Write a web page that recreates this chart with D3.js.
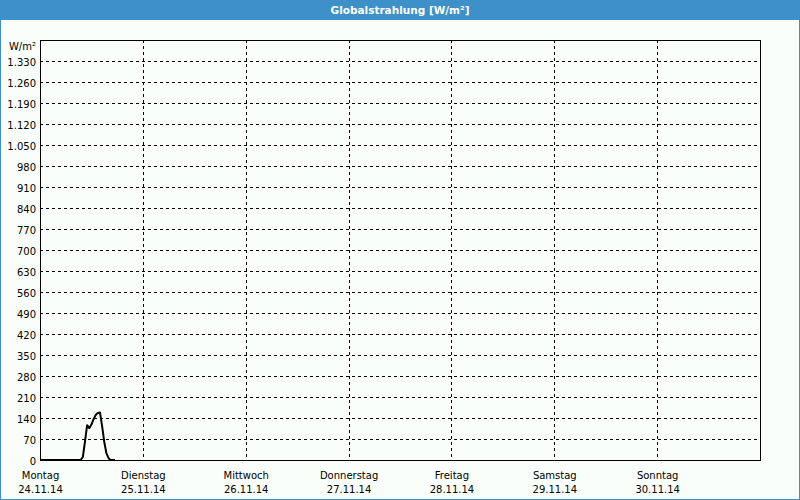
<!DOCTYPE html>
<html>
<head>
<meta charset="utf-8">
<script src="https://cdn.jsdelivr.net/npm/d3@7/dist/d3.min.js"></script>
<style>
  html, body { margin: 0; padding: 0; background: #fff; }
  svg { display: block; }
</style>
</head>
<body>
<svg id="chart" width="800" height="500"></svg>
<script>
// ---- data ----
const title = "Globalstrahlung [W/m²]";
const unitLabel = "W/m²";
const dayNames = ["Montag", "Dienstag", "Mittwoch", "Donnerstag", "Freitag", "Samstag", "Sonntag"];
const dayDates = ["24.11.14", "25.11.14", "26.11.14", "27.11.14", "28.11.14", "29.11.14", "30.11.14"];
const yTicks = [0, 70, 140, 210, 280, 350, 420, 490, 560, 630, 700, 770, 840, 910, 980, 1050, 1120, 1190, 1260, 1330];
// hours since Monday 24.11.14 00:00
const hours = [0, 9.5, 10.0, 10.5, 11.0, 11.5, 12.0, 12.5, 13.0, 13.5, 14.0, 14.5, 15.0, 15.5, 16.0, 16.5, 17.5];
const values = [0, 0, 10, 62, 116, 106, 118, 136, 150, 157, 158, 112, 60, 22, 6, 0, 0];

// ---- layout ----
const W = 800, H = 500;
const m = { left: 40, right: 760, top: 40, bottom: 460 };
const svg = d3.select("#chart");
const font = "Tahoma, 'DejaVu Sans', sans-serif";
const fs = "10px";

svg.append("rect").attr("x", 0).attr("y", 0).attr("width", W).attr("height", H).attr("fill", "#fafefa");
svg.append("rect").attr("x", 0).attr("y", 0).attr("width", W).attr("height", 20).attr("fill", "#3d91c8");
svg.append("rect").attr("x", 0.5).attr("y", 0.5).attr("width", W - 1).attr("height", H - 1)
  .attr("fill", "none").attr("stroke", "#3d91c8").attr("stroke-width", 1);
svg.append("text").attr("x", W / 2).attr("y", 14).attr("text-anchor", "middle")
  .attr("fill", "#fff").attr("font-family", font).attr("font-weight", "bold").attr("font-size", "10.5px")
  .text(title);

const start = new Date(2014, 10, 24);
const end = new Date(2014, 11, 1);
const x = d3.scaleTime().domain([start, end]).range([m.left, m.right]);
const y = d3.scaleLinear().domain([0, 1400]).range([m.bottom, m.top]);
const locale = d3.formatLocale({ decimal: ",", thousands: ".", grouping: [3], currency: ["", "€"] });
const fmt = locale.format(",d");

const days = dayNames.map((n, i) => new Date(2014, 10, 24 + i));

// grid
const grid = svg.append("g").attr("stroke", "#000").attr("stroke-width", 1).attr("stroke-dasharray", "3,3").attr("shape-rendering", "crispEdges");
yTicks.filter(v => v > 0).forEach(v => {
  grid.append("line").attr("x1", m.left).attr("x2", m.right).attr("y1", Math.round(y(v)) + 0.5).attr("y2", Math.round(y(v)) + 0.5);
});
days.slice(1).forEach(d => {
  grid.append("line").attr("y1", m.top).attr("y2", m.bottom).attr("x1", Math.round(x(d)) + 0.5).attr("x2", Math.round(x(d)) + 0.5);
});

// y axis
const yAxis = d3.axisLeft(y).tickValues(yTicks).tickSize(0).tickPadding(4).tickFormat(fmt);
const gy = svg.append("g").attr("transform", `translate(${m.left},0)`).call(yAxis);
gy.select(".domain").remove();
gy.selectAll("text").attr("font-family", font).attr("font-size", fs).attr("fill", "#000").attr("dy", "0.45em");

svg.append("text").attr("x", 36).attr("y", 50).attr("text-anchor", "end")
  .attr("font-family", font).attr("font-size", fs).attr("fill", "#000").text(unitLabel);

// x axis labels
const xAxis = d3.axisBottom(x).tickValues(days).tickSize(0).tickPadding(0).tickFormat("");
const gx = svg.append("g").attr("transform", `translate(0,${m.bottom})`).call(xAxis);
gx.select(".domain").remove();
gx.selectAll(".tick").each(function (d, i) {
  const t = d3.select(this);
  t.append("text").attr("y", 19).attr("text-anchor", "middle").attr("font-family", font).attr("font-size", fs).attr("fill", "#000").text(dayNames[i]);
  t.append("text").attr("y", 33).attr("text-anchor", "middle").attr("font-family", font).attr("font-size", fs).attr("fill", "#000").text(dayDates[i]);
});

// frame
svg.append("rect").attr("x", m.left + 0.5).attr("y", m.top + 0.5).attr("width", m.right - m.left).attr("height", m.bottom - m.top)
  .attr("fill", "none").attr("stroke", "#000").attr("stroke-width", 1).attr("shape-rendering", "crispEdges");

// series
const data = hours.map((h, i) => ({ t: new Date(start.getTime() + h * 3600000), v: values[i] }));
const line = d3.line().x(d => x(d.t)).y(d => y(d.v));
svg.append("path").datum(data).attr("d", line).attr("fill", "none").attr("stroke", "#000").attr("stroke-width", 2).attr("stroke-linejoin", "round");
</script>
</body>
</html>
